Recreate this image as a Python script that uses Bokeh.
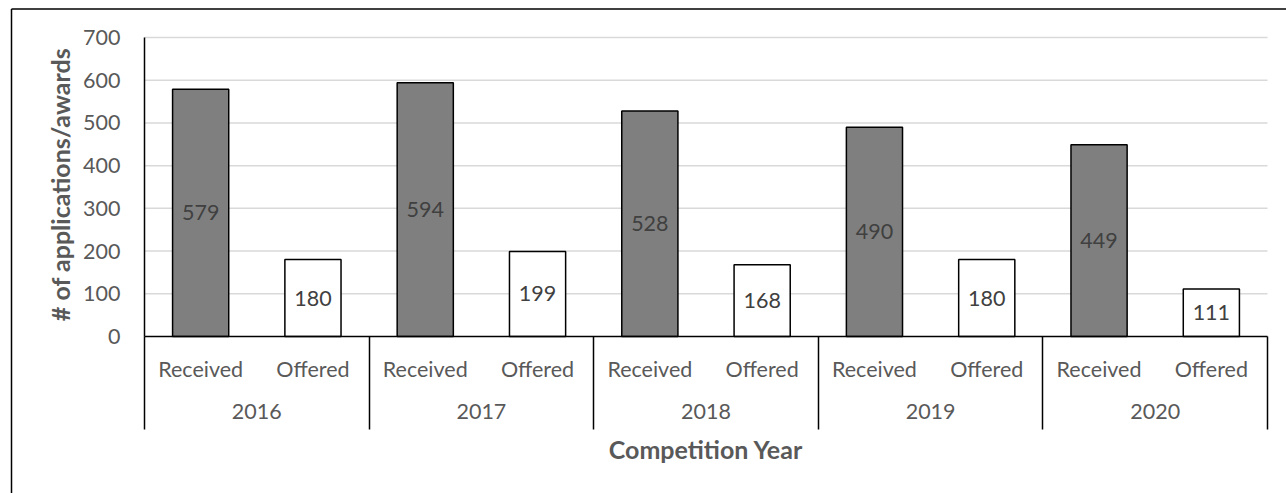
import math
from bokeh.plotting import figure
from bokeh.models import Range1d, LinearAxis, FixedTicker, Label
from bokeh.core.properties import value
from bokeh.embed import file_html
from bokeh.resources import INLINE

# ---------------- data ----------------
years = ["2016", "2017", "2018", "2019", "2020"]
kinds = ["Received", "Offered"]
received = [579, 594, 528, 490, 449]
offered = [180, 199, 168, 180, 111]
y_ticks = [0, 100, 200, 300, 400, 500, 600, 700]
y_title = "# of applications/awards"
x_title = "Competition Year"

# ---------------- layout (canvas pixels) ----------------
W, H = 1286, 493
PLOT_L, PLOT_R = 144, 1267         # plot area x extent on canvas
PLOT_T, PLOT_B = 37, 336           # plot area y extent on canvas (700 -> 0)
n_bars = len(years) * len(kinds)
YMAX = 700

xs = (PLOT_R - PLOT_L) / n_bars          # px per x unit
ys = (PLOT_B - PLOT_T) / YMAX            # px per y unit
def dx(px): return (px - PLOT_L) / xs
def dy(py): return (PLOT_B - py) / ys

FONT = "Lato"
TXT = "#595959"

p = figure(width=W, height=H, output_backend="svg", toolbar_location=None,
           x_range=Range1d(dx(0), dx(W)), y_range=Range1d(dy(H), dy(0)),
           x_axis_type=None, y_axis_type=None, min_border=0)
p.outline_line_color = None
p.background_fill_color = "white"
p.border_fill_color = "white"

# chart border (left and top edges visible in the window)
p.segment(x0=[dx(11), dx(11)], y0=[dy(8.5), dy(8.5)], x1=[dx(W + 5), dx(11)], y1=[dy(8.5), dy(H + 5)],
          line_color="black", line_width=1.5)

# gridlines
grid_vals = [t for t in y_ticks if t > 0]
p.segment(x0=0, x1=n_bars, y0=grid_vals, y1=grid_vals, line_color="#d9d9d9", line_width=1.5)

# bars
rec_x = [2 * i + 0.5 for i in range(len(years))]
off_x = [2 * i + 1.5 for i in range(len(years))]
p.vbar(x=rec_x, top=received, bottom=0, width=0.5, fill_color="#7f7f7f",
       line_color="black", line_width=1.5)
p.vbar(x=off_x, top=offered, bottom=0, width=0.5, fill_color="white",
       line_color="black", line_width=1.5)

# data labels
p.text(x=rec_x + off_x, y=[v / 2 for v in received + offered],
       text=[str(v) for v in received + offered],
       text_align="center", text_baseline="middle", text_color="#404040",
       text_font=value(FONT), text_font_size="21.5px")

def style_axis(ax, size="21.5px"):
    ax.major_tick_out = 0
    ax.major_tick_in = 0
    ax.minor_tick_out = 0
    ax.minor_tick_in = 0
    ax.major_label_text_font = FONT
    ax.major_label_text_font_size = size
    ax.major_label_text_color = TXT

# y axis
yaxis = LinearAxis(fixed_location=0, bounds=(0, YMAX), ticker=FixedTicker(ticks=y_ticks))
style_axis(yaxis)
yaxis.axis_line_color = "black"
yaxis.axis_line_width = 1.5
yaxis.major_label_standoff = 24
p.add_layout(yaxis, "left")

# x axis: kind labels
centers = [i + 0.5 for i in range(n_bars)]
kind_labels = {c: kinds[i % 2] for i, c in enumerate(centers)}
xaxis = LinearAxis(fixed_location=0, bounds=(0, n_bars), ticker=FixedTicker(ticks=centers),
                   major_label_overrides=kind_labels)
style_axis(xaxis)
xaxis.axis_line_color = "black"
xaxis.axis_line_width = 1.5
xaxis.major_label_standoff = 19
p.add_layout(xaxis, "below")

# x axis: year labels
year_centers = [2 * i + 1 for i in range(len(years))]
yr_axis = LinearAxis(fixed_location=0, ticker=FixedTicker(ticks=year_centers),
                     major_label_overrides={c: y for c, y in zip(year_centers, years)})
style_axis(yr_axis)
yr_axis.axis_line_color = None
yr_axis.major_label_standoff = 67
p.add_layout(yr_axis, "below")

# x axis: group separators
bounds_x = [2 * i for i in range(len(years) + 1)]
sep_axis = LinearAxis(fixed_location=0, ticker=FixedTicker(ticks=bounds_x),
                      major_label_overrides={b: "" for b in bounds_x})
style_axis(sep_axis, "1px")
sep_axis.axis_line_color = None
sep_axis.major_tick_out = 93
sep_axis.major_tick_line_color = "black"
sep_axis.major_tick_line_width = 1.5
p.add_layout(sep_axis, "below")

# axis titles
p.add_layout(Label(x=n_bars / 2, y=dy(448), text=x_title, text_align="center",
                   text_baseline="middle", text_font=FONT, text_font_style="bold",
                   text_font_size="25px", text_color=TXT))
p.add_layout(Label(x=dx(59), y=dy(184), text=y_title, angle=math.pi / 2,
                   text_align="center", text_baseline="middle", text_font=FONT,
                   text_font_style="bold", text_font_size="25px", text_color=TXT))

open("out.html", "w").write(file_html(p, INLINE))
